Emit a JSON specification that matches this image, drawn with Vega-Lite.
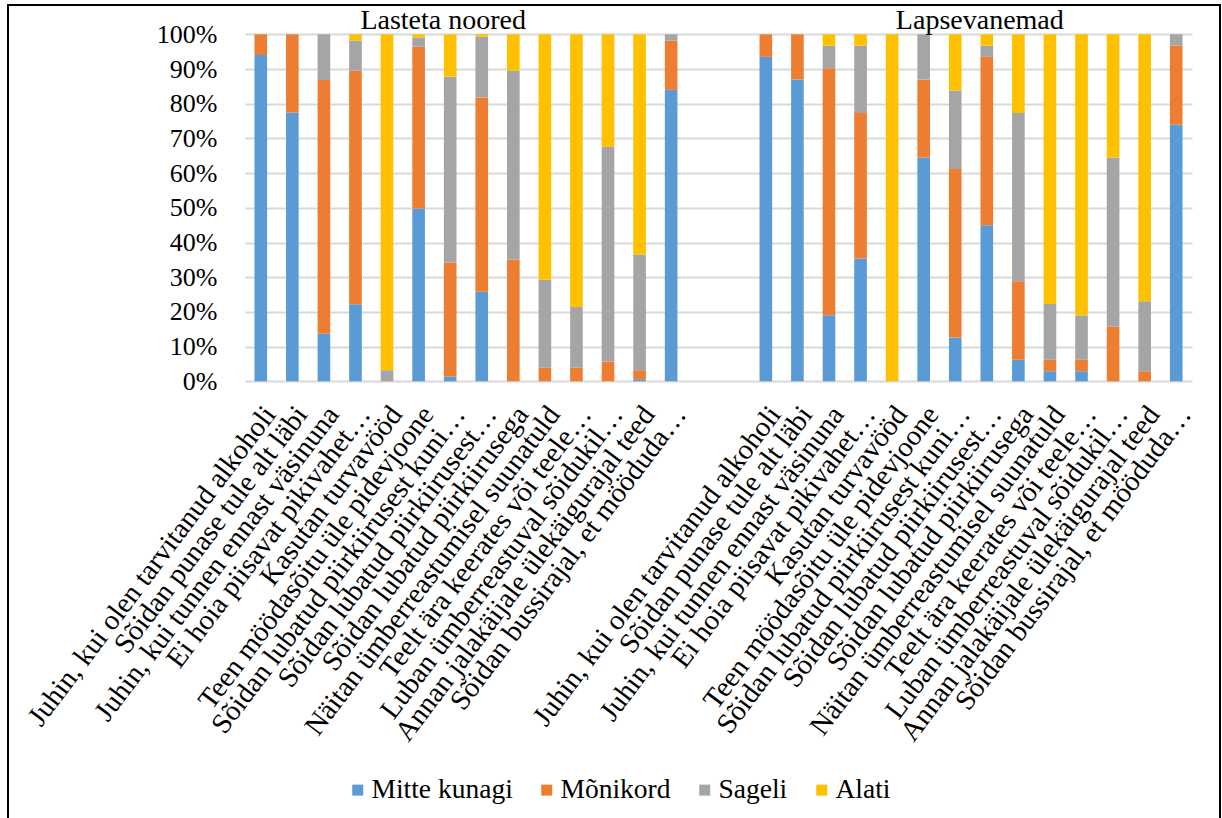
{
  "$schema": "https://vega.github.io/schema/vega-lite/v6.json",
  "autosize": {"type": "none"},
  "padding": {"left": 8, "top": 5, "right": 2, "bottom": 0},
  "width": 1212,
  "height": 822,
  "background": "white",
  "config": {
    "font": "Liberation Serif",
    "view": {"stroke": "#000000", "strokeWidth": 2},
    "axis": {"labelFont": "Liberation Serif", "labelColor": "#000000", "labelFontSize": 26},
    "legend": {
      "orient": "none",
      "legendX": 336,
      "legendY": 771,
      "direction": "horizontal",
      "title": null,
      "symbolType": "square",
      "symbolSize": 121,
      "symbolStrokeWidth": 0,
      "labelFont": "Liberation Serif",
      "labelFontSize": 27.5,
      "labelColor": "#000000",
      "labelOffset": 0,
      "columnPadding": 20,
      "labelLimit": 400
    }
  },
  "datasets": {
    "vastused": [
      {"veerg": "Lasteta noored|Juhin, kui olen tarvitanud alkoholi", "Mitte kunagi": 94.0, "Mõnikord": 6.0, "Sageli": 0, "Alati": 0},
      {"veerg": "Lasteta noored|Sõidan punase tule alt läbi", "Mitte kunagi": 77.5, "Mõnikord": 22.5, "Sageli": 0, "Alati": 0},
      {"veerg": "Lasteta noored|Juhin, kui tunnen ennast väsinuna", "Mitte kunagi": 13.7, "Mõnikord": 73.1, "Sageli": 13.2, "Alati": 0},
      {"veerg": "Lasteta noored|Ei hoia piisavat pikivahet…", "Mitte kunagi": 22.2, "Mõnikord": 67.3, "Sageli": 8.7, "Alati": 1.8},
      {"veerg": "Lasteta noored|Kasutan turvavööd", "Mitte kunagi": 0, "Mõnikord": 0, "Sageli": 3.2, "Alati": 96.8},
      {"veerg": "Lasteta noored|Teen möödasõitu üle pidevjoone", "Mitte kunagi": 49.8, "Mõnikord": 46.6, "Sageli": 2.7, "Alati": 0.9},
      {"veerg": "Lasteta noored|Sõidan lubatud piirkiirusest kuni…", "Mitte kunagi": 1.4, "Mõnikord": 32.8, "Sageli": 53.6, "Alati": 12.2},
      {"veerg": "Lasteta noored|Sõidan lubatud piirkiirusest…", "Mitte kunagi": 25.8, "Mõnikord": 56.0, "Sageli": 17.5, "Alati": 0.7},
      {"veerg": "Lasteta noored|Sõidan lubatud piirkiirusega", "Mitte kunagi": 0, "Mõnikord": 35.1, "Sageli": 54.4, "Alati": 10.5},
      {"veerg": "Lasteta noored|Näitan ümberreastumisel suunatuld", "Mitte kunagi": 0, "Mõnikord": 4.0, "Sageli": 25.3, "Alati": 70.7},
      {"veerg": "Lasteta noored|Teelt ära keerates või teele…", "Mitte kunagi": 0, "Mõnikord": 4.0, "Sageli": 17.4, "Alati": 78.6},
      {"veerg": "Lasteta noored|Luban ümberreastuval sõidukil…", "Mitte kunagi": 0, "Mõnikord": 5.7, "Sageli": 61.9, "Alati": 32.4},
      {"veerg": "Lasteta noored|Annan jalakäijale ülekäigurajal teed", "Mitte kunagi": 0.6, "Mõnikord": 2.6, "Sageli": 33.3, "Alati": 63.5},
      {"veerg": "Lasteta noored|Sõidan bussirajal, et mööduda…", "Mitte kunagi": 84.0, "Mõnikord": 14.2, "Sageli": 1.8, "Alati": 0},
      {"veerg": "Lapsevanemad|Juhin, kui olen tarvitanud alkoholi", "Mitte kunagi": 93.5, "Mõnikord": 6.5, "Sageli": 0, "Alati": 0},
      {"veerg": "Lapsevanemad|Sõidan punase tule alt läbi", "Mitte kunagi": 87.0, "Mõnikord": 13.0, "Sageli": 0, "Alati": 0},
      {"veerg": "Lapsevanemad|Juhin, kui tunnen ennast väsinuna", "Mitte kunagi": 19.0, "Mõnikord": 71.2, "Sageli": 6.5, "Alati": 3.3},
      {"veerg": "Lapsevanemad|Ei hoia piisavat pikivahet…", "Mitte kunagi": 35.4, "Mõnikord": 41.9, "Sageli": 19.4, "Alati": 3.3},
      {"veerg": "Lapsevanemad|Kasutan turvavööd", "Mitte kunagi": 0, "Mõnikord": 0, "Sageli": 0, "Alati": 100},
      {"veerg": "Lapsevanemad|Teen möödasõitu üle pidevjoone", "Mitte kunagi": 64.5, "Mõnikord": 22.5, "Sageli": 13.0, "Alati": 0},
      {"veerg": "Lapsevanemad|Sõidan lubatud piirkiirusest kuni…", "Mitte kunagi": 12.6, "Mõnikord": 48.6, "Sageli": 22.6, "Alati": 16.2},
      {"veerg": "Lapsevanemad|Sõidan lubatud piirkiirusest…", "Mitte kunagi": 45.0, "Mõnikord": 48.5, "Sageli": 3.2, "Alati": 3.3},
      {"veerg": "Lapsevanemad|Sõidan lubatud piirkiirusega", "Mitte kunagi": 6.2, "Mõnikord": 22.6, "Sageli": 48.5, "Alati": 22.7},
      {"veerg": "Lapsevanemad|Näitan ümberreastumisel suunatuld", "Mitte kunagi": 2.9, "Mõnikord": 3.3, "Sageli": 16.1, "Alati": 77.7},
      {"veerg": "Lapsevanemad|Teelt ära keerates või teele…", "Mitte kunagi": 2.9, "Mõnikord": 3.3, "Sageli": 12.8, "Alati": 81.0},
      {"veerg": "Lapsevanemad|Luban ümberreastuval sõidukil…", "Mitte kunagi": 0, "Mõnikord": 15.8, "Sageli": 48.7, "Alati": 35.5},
      {"veerg": "Lapsevanemad|Annan jalakäijale ülekäigurajal teed", "Mitte kunagi": 0, "Mõnikord": 2.9, "Sageli": 20.2, "Alati": 76.9},
      {"veerg": "Lapsevanemad|Sõidan bussirajal, et mööduda…", "Mitte kunagi": 74.0, "Mõnikord": 22.7, "Sageli": 3.3, "Alati": 0}
    ],
    "skaala": [
      {"vastus": "Mitte kunagi", "aste": 1},
      {"vastus": "Mõnikord", "aste": 2},
      {"vastus": "Sageli", "aste": 3},
      {"vastus": "Alati", "aste": 4}
    ],
    "pealkirjad": [
      {"veerg": "Lasteta noored|Sõidan lubatud piirkiirusest kuni…", "pealkiri": "Lasteta noored"},
      {"veerg": "Lapsevanemad|Sõidan lubatud piirkiirusest…", "pealkiri": "Lapsevanemad"}
    ]
  },
  "layer": [
    {
      "data": {"name": "vastused"},
      "transform": [
        {"fold": ["Mitte kunagi", "Mõnikord", "Sageli", "Alati"], "as": ["vastus", "osakaal"]},
        {"lookup": "vastus", "from": {"data": {"name": "skaala"}, "key": "vastus", "fields": ["aste"]}}
      ],
      "mark": {"type": "bar"},
      "encoding": {
        "x": {
          "field": "veerg",
          "type": "nominal",
          "scale": {
            "domain": [
              "Lasteta noored|Juhin, kui olen tarvitanud alkoholi",
              "Lasteta noored|Sõidan punase tule alt läbi",
              "Lasteta noored|Juhin, kui tunnen ennast väsinuna",
              "Lasteta noored|Ei hoia piisavat pikivahet…",
              "Lasteta noored|Kasutan turvavööd",
              "Lasteta noored|Teen möödasõitu üle pidevjoone",
              "Lasteta noored|Sõidan lubatud piirkiirusest kuni…",
              "Lasteta noored|Sõidan lubatud piirkiirusest…",
              "Lasteta noored|Sõidan lubatud piirkiirusega",
              "Lasteta noored|Näitan ümberreastumisel suunatuld",
              "Lasteta noored|Teelt ära keerates või teele…",
              "Lasteta noored|Luban ümberreastuval sõidukil…",
              "Lasteta noored|Annan jalakäijale ülekäigurajal teed",
              "Lasteta noored|Sõidan bussirajal, et mööduda…",
              "vahe 1",
              "vahe 2",
              "Lapsevanemad|Juhin, kui olen tarvitanud alkoholi",
              "Lapsevanemad|Sõidan punase tule alt läbi",
              "Lapsevanemad|Juhin, kui tunnen ennast väsinuna",
              "Lapsevanemad|Ei hoia piisavat pikivahet…",
              "Lapsevanemad|Kasutan turvavööd",
              "Lapsevanemad|Teen möödasõitu üle pidevjoone",
              "Lapsevanemad|Sõidan lubatud piirkiirusest kuni…",
              "Lapsevanemad|Sõidan lubatud piirkiirusest…",
              "Lapsevanemad|Sõidan lubatud piirkiirusega",
              "Lapsevanemad|Näitan ümberreastumisel suunatuld",
              "Lapsevanemad|Teelt ära keerates või teele…",
              "Lapsevanemad|Luban ümberreastuval sõidukil…",
              "Lapsevanemad|Annan jalakäijale ülekäigurajal teed",
              "Lapsevanemad|Sõidan bussirajal, et mööduda…"
            ],
            "range": [237, 1184],
            "paddingInner": 0.6,
            "paddingOuter": 0.3
          },
          "axis": {
            "title": null,
            "orient": "bottom",
            "offset": -418,
            "ticks": false,
            "domain": false,
            "grid": false,
            "labelAngle": -53,
            "labelFont": "Liberation Serif",
            "labelFontSize": 28.5,
            "labelPadding": 0,
            "labelOffset": 9,
            "labelLimit": 1000,
            "labelOverlap": false,
            "labelBound": false,
            "labelExpr": "indexof(datum.label, '|') > 0 ? split(datum.label, '|')[1] : ''"
          }
        },
        "y": {
          "field": "osakaal",
          "type": "quantitative",
          "stack": "normalize",
          "scale": {"domain": [0, 1], "range": [376.3, 29.3]},
          "axis": {
            "title": null,
            "offset": -209,
            "ticks": false,
            "tickSize": 0,
            "domain": false,
            "values": [0, 0.1, 0.2, 0.3, 0.4, 0.5, 0.6, 0.7, 0.8, 0.9, 1],
            "format": ".0%",
            "labelFont": "Liberation Serif",
            "labelFontSize": 26,
            "labelPadding": 0,
            "grid": true,
            "gridColor": "#d9d9d9",
            "gridWidth": 1.8
          }
        },
        "color": {
          "field": "vastus",
          "type": "nominal",
          "sort": ["Mitte kunagi", "Mõnikord", "Sageli", "Alati"],
          "scale": {
            "domain": ["Mitte kunagi", "Mõnikord", "Sageli", "Alati"],
            "range": ["#5b9bd5", "#ed7d31", "#a5a5a5", "#ffc000"]
          },
          "legend": {"title": null, "labelFont": "Liberation Serif", "labelFontSize": 27.5}
        },
        "order": {"field": "aste", "type": "quantitative"}
      }
    },
    {
      "data": {"name": "pealkirjad"},
      "mark": {"type": "text", "fontSize": 28, "font": "Liberation Serif", "color": "#000000", "baseline": "alphabetic", "dy": -5, "dx": -7},
      "encoding": {
        "x": {"field": "veerg", "type": "nominal"},
        "y": {"datum": 1, "type": "quantitative"},
        "text": {"field": "pealkiri"}
      }
    }
  ]
}
